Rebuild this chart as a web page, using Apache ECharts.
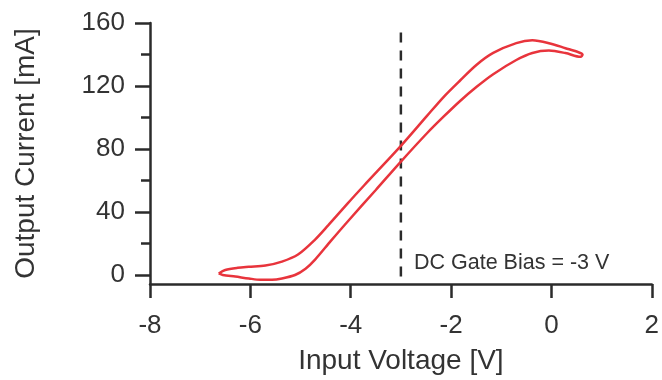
<!DOCTYPE html>
<html>
<head>
<meta charset="utf-8">
<script src="https://cdn.jsdelivr.net/npm/echarts@6/dist/echarts.min.js"></script>
<style>
html,body{margin:0;padding:0;background:#ffffff;}
#chart{width:662px;height:380px;}
</style>
</head>
<body>
<div id="chart"></div>
<script>
// Upper (left-shifted) branch: left tip -> right tip  [voltage V, current mA]
var upperVoltage = [-6.63, -6.50, -6.25, -6.03, -5.70, -5.37, -5.05, -4.71, -4.45, -4.06, -3.73, -3.00, -2.48, -2.15, -1.82, -1.49, -1.16, -0.70, -0.38, -0.05, 0.28, 0.55, 0.62];
var upperCurrent = [1.0, 3.2, 4.6, 5.2, 6.0, 8.5, 13.0, 22.5, 31.5, 45.5, 57.0, 82.0, 101.0, 113.0, 123.5, 133.5, 141.0, 147.2, 149.0, 147.2, 144.0, 141.3, 140.0];
// Lower branch: right tip -> left tip
var lowerVoltage = [0.58, 0.28, -0.05, -0.38, -0.70, -1.16, -1.49, -1.82, -2.15, -2.48, -3.00, -3.50, -4.06, -4.40, -4.71, -4.90, -5.11, -5.37, -5.57, -5.80, -6.03, -6.30, -6.55, -6.63];
var lowerCurrent = [138.5, 140.9, 142.5, 141.0, 136.5, 127.5, 119.5, 110.5, 100.5, 90.0, 72.0, 54.0, 34.0, 21.5, 9.8, 4.0, 0.0, -2.2, -3.0, -3.0, -2.2, -1.0, 0.0, 1.0];

var biasVoltage = -3;
var biasTop = 154;
var biasLabel = 'DC Gate Bias = -3 V';

var xMin = -8, xMax = 2, xInterval = 2;
var yMin = -5.7, yMax = 160;
var yMajorTicks = [0, 40, 80, 120, 160];
var yMinorTicks = [20, 60, 100, 140];

var xName = 'Input Voltage [V]';
var yName = 'Output Current [mA]';

var loop = [];
for (var i = 0; i < upperVoltage.length; i++) loop.push([upperVoltage[i], upperCurrent[i]]);
for (var j = 0; j < lowerVoltage.length; j++) loop.push([lowerVoltage[j], lowerCurrent[j]]);

var FONT = 'Liberation Sans, Arial, sans-serif';
var AXIS_COLOR = '#2b2b2b';
var TEXT_COLOR = '#333333';

var chart = echarts.init(document.getElementById('chart'), null, {renderer: 'canvas'});
chart.setOption({
  backgroundColor: '#ffffff',
  animation: false,
  grid: {left: 150, right: 5, top: 23, bottom: 94, containLabel: false},
  xAxis: {
    type: 'value', min: xMin, max: xMax, interval: xInterval,
    name: xName, nameLocation: 'middle', nameGap: 63,
    nameTextStyle: {fontFamily: FONT, fontSize: 28, color: TEXT_COLOR},
    axisLine: {show: true, onZero: false, lineStyle: {color: AXIS_COLOR, width: 2.5}},
    axisTick: {show: true, inside: false, length: 14, lineStyle: {color: AXIS_COLOR, width: 2.5}},
    axisLabel: {fontFamily: FONT, fontSize: 26, color: TEXT_COLOR, margin: 29},
    splitLine: {show: false}
  },
  yAxis: [{
    type: 'value', min: yMin, max: yMax, position: 'left',
    name: yName, nameLocation: 'middle', nameGap: 110,
    nameTextStyle: {fontFamily: FONT, fontSize: 28, color: TEXT_COLOR},
    axisLine: {show: true, onZero: false, lineStyle: {color: AXIS_COLOR, width: 2.5}},
    axisTick: {show: true, inside: false, length: 15, customValues: yMajorTicks, lineStyle: {color: AXIS_COLOR, width: 2.5}},
    axisLabel: {fontFamily: FONT, fontSize: 26, color: TEXT_COLOR, margin: 25, customValues: yMajorTicks},
    splitLine: {show: false}
  }, {
    type: 'value', min: yMin, max: yMax, position: 'left',
    axisLine: {show: false, onZero: false},
    axisTick: {show: true, inside: false, length: 9, customValues: yMinorTicks, lineStyle: {color: AXIS_COLOR, width: 2.5}},
    axisLabel: {show: false},
    splitLine: {show: false}
  }],
  graphic: [{
    type: 'text', left: 414, top: 252,
    style: {text: biasLabel, fontFamily: FONT, fontSize: 21.5, fill: TEXT_COLOR}
  }],
  series: [{
    type: 'line', data: [[biasVoltage, biasTop], [biasVoltage, yMin]],
    symbol: 'none', silent: true,
    lineStyle: {color: AXIS_COLOR, width: 2.5, type: [10, 8]}
  }, {
    type: 'line', data: loop, symbol: 'none', smooth: 0.3,
    lineStyle: {color: '#e8343c', width: 2.5}
  }]
});
</script>
</body>
</html>
